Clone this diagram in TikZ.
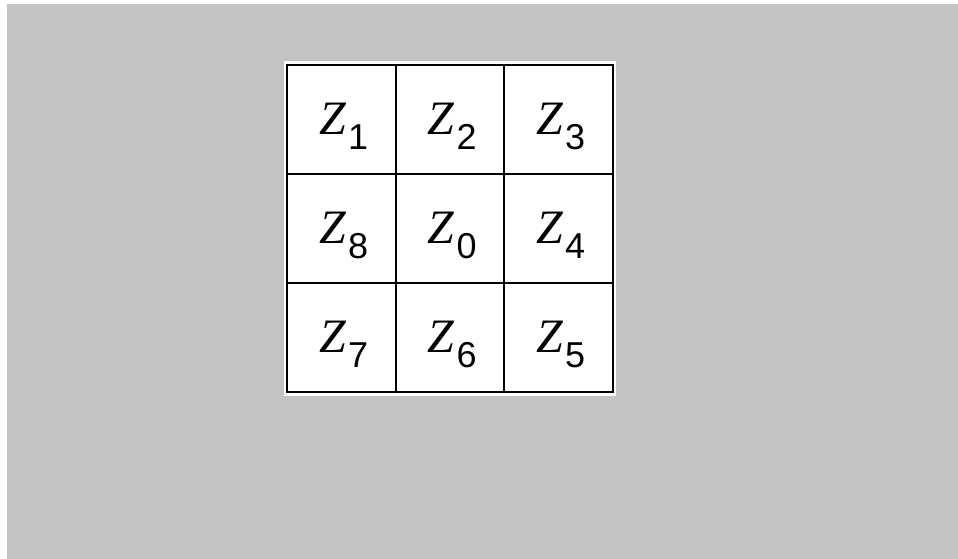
\documentclass[tikz,border=0pt]{standalone}
\usepackage{fontspec}
\setmainfont{Liberation Sans}
\newfontfamily\zfont{Liberation Serif}
\definecolor{bggray}{RGB}{195,195,195}
\begin{document}
\begin{tikzpicture}[x=1pt,y=-1pt,
  cellbox/.style={draw=black, line width=2pt, fill=white, minimum width=108.5pt, minimum height=109pt, inner sep=0pt, outer sep=0pt},
  lab/.style={anchor=base west, inner sep=0pt}]
\fill[white] (0,0) rectangle (958,559);
\fill[bggray] (7,4) rectangle (958,559);
\useasboundingbox (0,0) rectangle (958,559);
\fill[white] (284,61) rectangle (616,396);
\newcommand{\zlab}[1]{{\zfont\itshape\fontsize{48}{48}\selectfont Z}\kern2pt\raisebox{-15pt}{\fontsize{36}{36}\selectfont #1}}
\node[cellbox] (c1) at (341.25,119.5) {};
\node[cellbox] (c2) at (449.75,119.5) {};
\node[cellbox] (c3) at (558.25,119.5) {};
\node[cellbox] (c8) at (341.25,228.5) {};
\node[cellbox] (c0) at (449.75,228.5) {};
\node[cellbox] (c4) at (558.25,228.5) {};
\node[cellbox] (c7) at (341.25,337.5) {};
\node[cellbox] (c6) at (449.75,337.5) {};
\node[cellbox] (c5) at (558.25,337.5) {};
\foreach \n in {1,2,3,8,0,4,7,6,5}{
  \node[lab] (l\n) at ([shift={(-22,15)}]c\n.center) {\zlab{\n}};
}
\end{tikzpicture}
\end{document}
